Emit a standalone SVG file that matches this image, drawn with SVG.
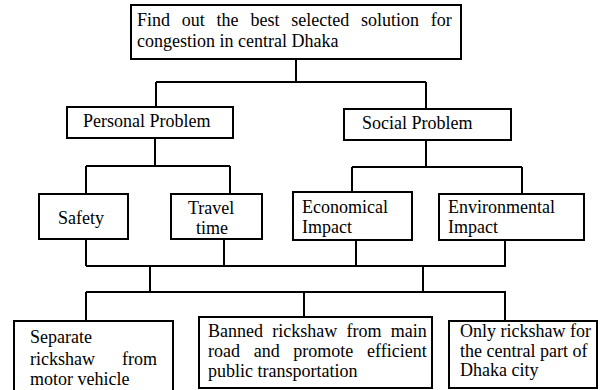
<svg xmlns="http://www.w3.org/2000/svg" width="600" height="390" viewBox="0 0 600 390">
<style>
.box{fill:#fff;stroke:#000;stroke-width:2}
.t{font-family:"Liberation Serif","Times New Roman",serif;font-size:18px;fill:#000}
.c{fill:none;stroke:#000;stroke-width:2}
</style>
<rect width="600" height="390" fill="#fff"/>
<g id="connectors">
<path class="c" d="M296 59V82M156 82H426M156 82V107M426 82V109"/>
<path class="c" d="M155 138V166M86 166H230M86 166V194M230 166V194"/>
<path class="c" d="M426 140V167M352 167H522M352 167V192M522 167V194"/>
<path class="c" d="M86 239V266M224 239V266M356 240V266M505 240V266M86 266H506M150 266V292M423 266V292M86 292H506M86 292V321M304 292V317M505 292V321"/>
</g>
<g id="goal">
<rect class="box" x="131" y="5" width="330" height="54"/>
<text class="t" x="137" y="26" word-spacing="7.3">Find out the best selected solution for</text>
<text class="t" x="137" y="47">congestion in central Dhaka</text>
</g>
<g id="personal">
<rect class="box" x="67" y="107" width="166" height="31"/>
<text class="t" x="83" y="127">Personal Problem</text>
</g>
<g id="social">
<rect class="box" x="344" y="109" width="167" height="31"/>
<text class="t" x="362" y="129">Social Problem</text>
</g>
<g id="safety">
<rect class="box" x="39" y="194" width="89" height="45"/>
<text class="t" x="58" y="224">Safety</text>
</g>
<g id="travel">
<rect class="box" x="171" y="194" width="91" height="45"/>
<text class="t" x="188" y="214">Travel</text>
<text class="t" x="196" y="234">time</text>
</g>
<g id="economical">
<rect class="box" x="293" y="192" width="119" height="48"/>
<text class="t" x="302" y="213">Economical</text>
<text class="t" x="302" y="233">Impact</text>
</g>
<g id="environmental">
<rect class="box" x="439" y="194" width="145" height="46"/>
<text class="t" x="448" y="213">Environmental</text>
<text class="t" x="448" y="233">Impact</text>
</g>
<g id="separate">
<rect class="box" x="14" y="321" width="159" height="75"/>
<text class="t" x="30" y="343">Separate</text>
<text class="t" x="30" y="365" word-spacing="22.5">rickshaw from</text>
<text class="t" x="30" y="385">motor vehicle</text>
</g>
<g id="banned">
<rect class="box" x="199" y="317" width="233" height="71"/>
<text class="t" x="208" y="337" word-spacing="4.8">Banned rickshaw from main</text>
<text class="t" x="208" y="357" word-spacing="9.2">road and promote efficient</text>
<text class="t" x="208" y="377">public transportation</text>
</g>
<g id="only">
<rect class="box" x="449" y="321" width="148" height="67"/>
<text class="t" x="460" y="337">Only rickshaw for</text>
<text class="t" x="460" y="357">the central part of</text>
<text class="t" x="460" y="376">Dhaka city</text>
</g>
</svg>
